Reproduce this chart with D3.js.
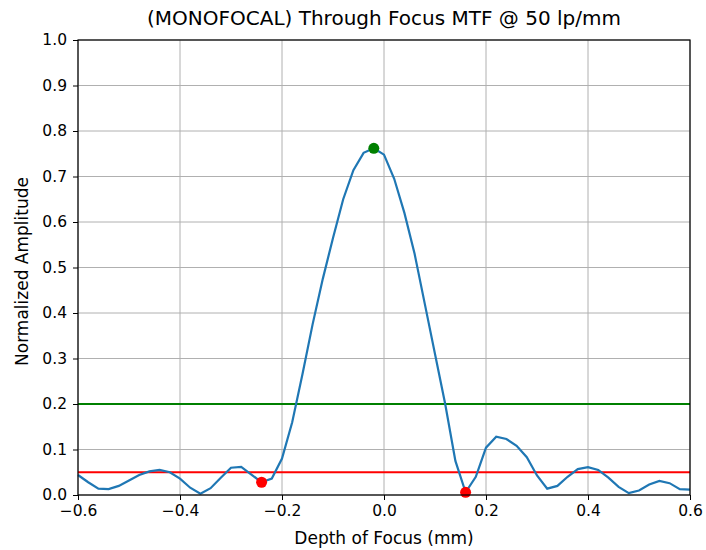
<!DOCTYPE html>
<html>
<head>
<meta charset="utf-8">
<script src="https://cdn.jsdelivr.net/npm/d3@7"></script>
<style>
  body { margin: 0; background: #fff; }
  svg { font-family: "DejaVu Sans", sans-serif; }
</style>
</head>
<body>
<script>
// depth of focus (mm), sampled every 0.02
const depth = d3.range(-30, 31).map(i => +(i * 0.02).toFixed(2));
const amplitude = [
  0.044, 0.028, 0.014, 0.013, 0.020, 0.032, 0.044, 0.052, 0.055, 0.050,
  0.036, 0.016, 0.003, 0.015, 0.038, 0.060, 0.062, 0.045, 0.028, 0.036,
  0.080, 0.160, 0.265, 0.375, 0.475, 0.565, 0.650, 0.714, 0.752, 0.762,
  0.748, 0.695, 0.620, 0.530, 0.420, 0.310, 0.200, 0.075, 0.006, 0.040,
  0.104, 0.128, 0.123, 0.108, 0.083, 0.043, 0.014, 0.020, 0.040, 0.057,
  0.061, 0.055, 0.038, 0.018, 0.004, 0.010, 0.023, 0.031, 0.026, 0.013,
  0.012
];
const peakPoint = [{ x: -0.02, y: 0.762 }];
const edgePoints = [{ x: -0.24, y: 0.028 }, { x: 0.16, y: 0.006 }];
const thresholds = [{ y: 0.2, color: "green" }, { y: 0.05, color: "red" }];
const xTicks = [-0.6, -0.4, -0.2, 0.0, 0.2, 0.4, 0.6];
const yTicks = d3.range(0, 11).map(i => i / 10);

const W = 706, H = 550;
const margin = { top: 40, right: 16, bottom: 55, left: 78 };
const width = W - margin.left - margin.right,
      height = H - margin.top - margin.bottom;

const svg = d3.select("body").append("svg")
    .attr("width", W).attr("height", H);
svg.append("rect").attr("width", W).attr("height", H).attr("fill", "#fff");

const g = svg.append("g").attr("transform", `translate(${margin.left},${margin.top})`);

const x = d3.scaleLinear().domain([-0.6, 0.6]).range([0, width]);
const y = d3.scaleLinear().domain([0, 1]).range([height, 0]);

// grid
g.append("g").selectAll("line").data(xTicks).join("line")
    .attr("x1", d => x(d)).attr("x2", d => x(d))
    .attr("y1", 0).attr("y2", height)
    .attr("stroke", "#b0b0b0").attr("stroke-width", 1);
g.append("g").selectAll("line").data(yTicks).join("line")
    .attr("x1", 0).attr("x2", width)
    .attr("y1", d => y(d)).attr("y2", d => y(d))
    .attr("stroke", "#b0b0b0").attr("stroke-width", 1);

// axes
const xAxis = g.append("g").attr("transform", `translate(0,${height})`)
    .call(d3.axisBottom(x).tickValues(xTicks).tickSize(5).tickPadding(5)
        .tickFormat(d => d3.format(".1f")(d).replace("-", "\u2212")));
const yAxis = g.append("g")
    .call(d3.axisLeft(y).tickValues(yTicks).tickSize(5).tickPadding(6).tickFormat(d3.format(".1f")));
[xAxis, yAxis].forEach(a => {
  a.selectAll("text").attr("font-size", 15.5).attr("fill", "#000").attr("font-family", "DejaVu Sans");
  a.select(".domain").remove();
  a.selectAll(".tick line").attr("stroke", "#000");
});

// threshold lines
g.append("g").selectAll("line").data(thresholds).join("line")
    .attr("x1", 0).attr("x2", width)
    .attr("y1", d => y(d.y)).attr("y2", d => y(d.y))
    .attr("stroke", d => d.color).attr("stroke-width", 2);

// curve
const line = d3.line().x((d, i) => x(depth[i])).y(d => y(d));
g.append("path").datum(amplitude)
    .attr("d", line)
    .attr("fill", "none")
    .attr("stroke", "#1f77b4")
    .attr("stroke-width", 2.2);

// markers
g.selectAll(".peak").data(peakPoint).join("circle")
    .attr("cx", d => x(d.x)).attr("cy", d => y(d.y)).attr("r", 5.5).attr("fill", "green");
g.selectAll(".edge").data(edgePoints).join("circle")
    .attr("cx", d => x(d.x)).attr("cy", d => y(d.y)).attr("r", 5.5).attr("fill", "red");

// frame
g.append("rect").attr("width", width).attr("height", height)
    .attr("fill", "none").attr("stroke", "#000").attr("stroke-width", 1.2);

// labels
svg.append("text").attr("x", margin.left + width / 2).attr("y", 25)
    .attr("text-anchor", "middle").attr("font-size", 20)
    .text("(MONOFOCAL) Through Focus MTF @ 50 lp/mm");
svg.append("text").attr("x", margin.left + width / 2).attr("y", 544)
    .attr("text-anchor", "middle").attr("font-size", 17)
    .text("Depth of Focus (mm)");
svg.append("text")
    .attr("transform", `translate(28,${margin.top + height / 2 + 4}) rotate(-90)`)
    .attr("text-anchor", "middle").attr("font-size", 17)
    .text("Normalized Amplitude");
</script>
</body>
</html>
